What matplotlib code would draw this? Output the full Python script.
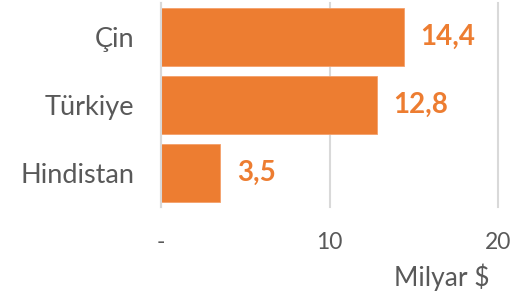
import matplotlib
matplotlib.use("Agg")
import matplotlib.pyplot as plt

# veriler
countries = ["Çin", "Türkiye", "Hindistan"]
values = [14.4, 12.8, 3.5]
xticks = [0, 10, 20]
xtick_labels = ["-", "10", "20"]

orange = "#ED7D31"
gray_text = "#595959"
grid_gray = "#D9D9D9"

plt.rcParams["font.family"] = ["Lato", "DejaVu Sans"]

fig = plt.figure(figsize=(5.16, 2.98), dpi=100)
ax = fig.add_axes([161 / 516, 1 - 207 / 298, (498 - 161) / 516, 204 / 298])

ypos = list(range(len(countries)))
ax.barh(ypos, values, height=0.84, color=orange, edgecolor="#F4A06A", linewidth=0.6, zorder=3)

# değer etiketleri
for y, v in zip(ypos, values):
    ax.annotate(f"{v:.1f}".replace(".", ","), (v, y), xytext=(12, 0), textcoords="offset points",
                ha="left", va="center", fontsize=20, fontweight="bold", color=orange)

ax.set_ylim(len(countries) - 0.5, -0.5)
ax.set_xlim(0, 20)
ax.set_yticks(ypos)
ax.set_yticklabels(countries, fontsize=19.5, color=gray_text)
ax.set_xticks(xticks)
ax.set_xticklabels(xtick_labels, fontsize=16.5, color=gray_text)
ax.tick_params(axis="both", length=0)
ax.tick_params(axis="y", pad=19)
ax.tick_params(axis="x", pad=18)

ax.xaxis.grid(True, color=grid_gray, linewidth=1.5, zorder=0)
for g in ax.get_xgridlines():
    g.set_clip_on(False)
for s in ["top", "right", "bottom"]:
    ax.spines[s].set_visible(False)
ax.spines["left"].set_color(grid_gray)
ax.spines["left"].set_linewidth(1.5)
ax.spines["left"].set_zorder(4)

fig.text(489 / 516, 1 - 277 / 298, "Milyar $", ha="right", va="center", fontsize=19,
         color=gray_text)

fig.savefig("out.png", dpi=100)
